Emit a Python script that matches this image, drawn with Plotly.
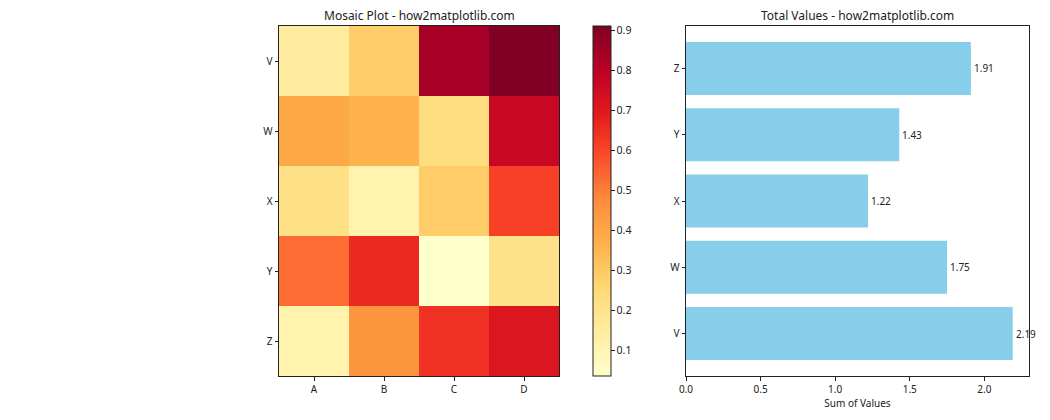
import plotly.graph_objects as go

columns = ["A", "B", "C", "D"]
rows = ["V", "W", "X", "Y", "Z"]
values = [
    [0.15, 0.29, 0.84, 0.91],
    [0.39, 0.36, 0.23, 0.77],
    [0.21, 0.11, 0.29, 0.61],
    [0.53, 0.66, 0.035, 0.205],
    [0.11, 0.45, 0.64, 0.71],
]
totals = [2.19, 1.75, 1.22, 1.43, 1.91]

OFF = 8  # default page body margin
W, H = 1050 - 2 * OFF, 420 - 2 * OFF
font = "Noto Sans, DejaVu Sans, sans-serif"

def px_x(p):
    return (p - OFF) / W

def px_y(p):
    return 1 - (p - OFF) / H

fig = go.Figure()

fig.add_trace(go.Heatmap(
    z=values, x=columns, y=rows,
    colorscale="YlOrRd", zmin=0.035, zmax=0.91,
    xaxis="x", yaxis="y",
    colorbar=dict(
        x=px_x(593), xanchor="left", xref="paper", xpad=0, ypad=0,
        y=px_y(376), yanchor="bottom", yref="paper",
        len=350, lenmode="pixels", thickness=18, thicknessmode="pixels",
        outlinewidth=1, outlinecolor="#222",
        tickvals=[0.1, 0.2, 0.3, 0.4, 0.5, 0.6, 0.7, 0.8, 0.9],
        ticks="outside", ticklen=3.5, tickcolor="#222",
        tickfont=dict(size=10.5, color="#222", family=font),
    ),
    showscale=True,
))

fig.add_trace(go.Bar(
    y=rows, x=totals, orientation="h", marker=dict(color="#87ceeb", line=dict(width=0)),
    width=0.8, xaxis="x2", yaxis="y2", showlegend=False,
))

for r, t in zip(rows, totals):
    fig.add_annotation(x=t, y=r, xref="x2", yref="y2", text=f"{t:.2f}",
                       showarrow=False, xanchor="left", xshift=1,
                       font=dict(size=10, color="#222", family=font))

axis_common = dict(showline=True, linecolor="#222", linewidth=1, mirror=True,
                   ticks="outside", ticklen=3.5, tickcolor="#222", showgrid=False,
                   zeroline=False, automargin=False,
                   tickfont=dict(size=10, color="#222", family=font))

fig.update_layout(
    width=W, height=H, margin=dict(l=0, r=0, t=0, b=0, autoexpand=False),
    paper_bgcolor="white", plot_bgcolor="white",
    font=dict(family=font, color="#222"),
    xaxis=dict(domain=[px_x(279), px_x(559)], anchor="y", **axis_common),
    yaxis=dict(domain=[px_y(376), px_y(26)], anchor="x", autorange="reversed", **axis_common),
    xaxis2=dict(domain=[px_x(686), px_x(1029)], anchor="y2", range=[0, 2.2995],
                tickvals=[0, 0.5, 1.0, 1.5, 2.0], ticktext=["0.0", "0.5", "1.0", "1.5", "2.0"],
                title=dict(text="Sum of Values", font=dict(size=10, family=font), standoff=4),
                **axis_common),
    yaxis2=dict(domain=[px_y(376), px_y(26)], anchor="x2", range=[-0.64, 4.64],
                categoryorder="array", categoryarray=rows, **axis_common),
    showlegend=False,
    annotations=list(fig.layout.annotations) + [
        dict(text="Mosaic Plot - how2matplotlib.com", x=px_x(419), y=px_y(15), xref="paper", yref="paper",
             showarrow=False, font=dict(size=12, family=font, color="#222"), xanchor="center", yanchor="middle"),
        dict(text="Total Values - how2matplotlib.com", x=px_x(857), y=px_y(15), xref="paper", yref="paper",
             showarrow=False, font=dict(size=12, family=font, color="#222"), xanchor="center", yanchor="middle"),
    ],
)

fig.write_html("out.html")
